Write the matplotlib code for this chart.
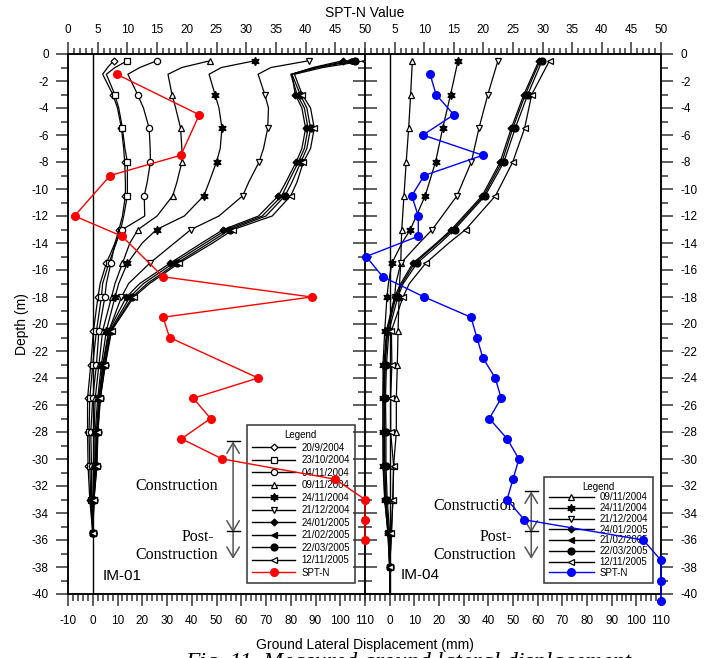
import matplotlib
matplotlib.use('Agg')
import matplotlib.pyplot as plt
from matplotlib.lines import Line2D
from matplotlib.patches import FancyArrowPatch
from matplotlib.ticker import MultipleLocator, FixedLocator

plt.rcParams['font.family'] = ['Liberation Sans', 'DejaVu Sans']
plt.rcParams['axes.unicode_minus'] = False

# ---------------- IM-01 inclinometer (ground lateral displacement, mm) ----------------
im01_depth = [-0.5, -1.0, -1.5, -3, -4, -5.5, -7, -8, -9.5, -10.5, -12, -13, -14,
              -15.5, -17, -18, -20.5, -23, -25.5, -28, -30.5, -33, -35.5]
im01_dates = ['20/9/2004', '23/10/2004', '04/11/2004', '09/11/2004', '24/11/2004',
              '21/12/2004', '24/01/2005', '21/02/2005', '22/03/2005', '12/11/2005']
im01_disp = [
    [8.4, 6.0, 4.0, 8.1, 10.0, 11.6, 12.5, 12.9, 13.2, 13.2, 12.0, 10.6, 9.0, 5.5, 3.0, 2.1, 0.3, -0.8, -2.1, -2.1, -1.9, -1.2, 0],
    [14.0, 9.0, 5.5, 8.9, 10.5, 12.0, 13.0, 14.0, 14.0, 14.0, 12.5, 11.3, 9.5, 6.5, 4.0, 3.5, 1.5, 0.0, -1.2, -1.5, -1.2, -0.8, 0],
    [25.9, 19.0, 14.2, 18.1, 20.5, 22.8, 23.2, 23.3, 22.0, 20.8, 21.0, 12.0, 9.0, 7.3, 5.5, 4.9, 2.5, 1.5, 0.0, -0.8, -0.5, -0.5, 0],
    [47.4, 36.0, 30.4, 32.0, 33.5, 35.5, 36.0, 36.0, 34.0, 32.3, 26.0, 18.3, 15.0, 12.0, 9.0, 7.6, 4.0, 2.5, 1.0, 0.5, 0.3, 0.0, 0],
    [65.5, 52.0, 47.0, 49.4, 51.0, 52.2, 51.5, 50.0, 47.0, 44.9, 37.0, 25.8, 20.0, 14.0, 10.5, 9.0, 5.5, 3.5, 2.0, 1.0, 0.8, 0.2, 0],
    [87.3, 72.0, 66.8, 69.5, 71.0, 70.7, 69.0, 67.2, 63.0, 60.6, 51.0, 39.7, 33.0, 23.0, 14.5, 11.6, 6.5, 4.0, 2.5, 1.5, 1.0, 0.4, 0],
    [101.0, 89.0, 80.5, 81.8, 84.5, 86.0, 84.5, 82.2, 78.0, 75.0, 67.0, 52.8, 44.0, 31.2, 19.0, 13.6, 6.5, 4.3, 2.5, 1.6, 1.2, 0.3, 0],
    [103.6, 90.0, 80.0, 82.6, 85.5, 87.0, 85.5, 83.1, 79.0, 76.4, 68.5, 54.1, 45.5, 32.5, 20.5, 15.0, 7.0, 4.7, 2.8, 1.8, 1.4, 0.4, 0],
    [106.0, 91.0, 80.5, 83.8, 86.5, 88.0, 86.5, 84.1, 80.5, 77.7, 70.0, 55.5, 47.0, 33.9, 22.0, 16.0, 7.3, 5.0, 3.0, 2.0, 1.6, 0.5, 0],
    [110.0, 93.0, 81.5, 84.6, 88.0, 89.5, 88.0, 85.1, 82.5, 80.0, 72.5, 56.8, 48.5, 34.8, 23.0, 16.6, 7.6, 5.1, 3.1, 2.1, 1.7, 0.5, 0],
]
im01_spt_depth = [-1.5, -4.5, -7.5, -9, -12, -13.5, -16.5, -18, -19.5, -21, -24, -25.5,
                  -27, -28.5, -30, -31.5, -33, -34.5, -36]
im01_spt = [8.2, 22.1, 19.0, 7.1, 1.1, 9.1, 16.0, 41.0, 16.0, 17.1, 32.0, 21.1,
            24.0, 19.1, 26.0, 45.0, 50, 50, 50]

# ---------------- IM-04 inclinometer ----------------
im04_depth = [-0.5, -3, -5.5, -8, -10.5, -13, -14, -15.5, -17, -18, -20.5, -23,
              -25.5, -28, -30.5, -33, -35.5, -38, -40]
im04_dates = ['09/11/2004', '24/11/2004', '21/12/2004', '24/01/2005', '21/02/2005',
              '22/03/2005', '12/11/2005']
im04_disp = [
    [9.2, 8.5, 7.7, 6.7, 5.8, 4.9, 4.7, 4.5, 4.0, 3.8, 3.4, 3.1, 2.7, 2.7, 1.6, 1.3, 0.7, 0.0, 0.0],
    [27.7, 24.7, 21.5, 18.6, 14.4, 8.4, 5.0, 0.9, -0.5, -1.1, -2.0, -2.7, -2.7, -2.7, -2.7, -2.0, -0.7, 0.0, 0.0],
    [43.9, 39.8, 36.2, 33.1, 27.3, 17.3, 12.0, 4.5, 2.5, 2.0, -1.0, -2.0, -2.0, -2.0, -2.0, -1.5, -0.5, 0.0, 0.0],
    [60.5, 54.4, 49.3, 44.8, 37.5, 25.0, 19.0, 9.4, 4.5, 2.0, -1.3, -2.3, -2.7, -2.7, -2.5, -2.0, -0.7, 0.0, 0.0],
    [61.0, 55.0, 49.9, 45.5, 38.1, 25.6, 19.5, 10.1, 5.0, 2.5, -0.8, -1.8, -2.2, -2.2, -2.0, -1.5, -0.3, 0.0, 0.0],
    [61.8, 56.0, 50.9, 46.3, 38.7, 26.3, 20.5, 11.1, 5.5, 3.3, -0.3, -1.3, -1.7, -1.5, -1.5, -1.0, 0.0, 0.0, 0.0],
    [64.8, 57.6, 54.7, 49.9, 42.9, 30.8, 24.0, 14.6, 8.0, 5.4, 0.7, 0.9, 0.4, 0.4, 1.6, 1.3, 0.7, 0.0, 0.0],
]
im04_spt_depth = [-1.5, -3, -4.5, -6, -7.5, -9, -10.5, -12, -13.5, -15, -16.5, -18, -19.5,
                  -21, -22.5, -24, -25.5, -27, -28.5, -30, -31.5, -33, -34.5, -36,
                  -37.5, -39, -40.5]
im04_spt = [11.0, 12.0, 15.0, 9.8, 19.9, 10.0, 7.9, 9.0, 9.0, 0.2, 3.0, 10.0, 17.9,
            18.9, 19.9, 22.0, 23.0, 21.0, 24.0, 26.0, 25.0, 24.0, 26.9, 47.0,
            50, 50, 50]

# marker style per reading date
styles = {
    '20/9/2004': dict(marker='D', ms=3.5, mfc='white'),
    '23/10/2004': dict(marker='s', ms=4.5, mfc='white'),
    '04/11/2004': dict(marker='o', ms=4.5, mfc='white'),
    '09/11/2004': dict(marker='^', ms=5, mfc='white'),
    '24/11/2004': dict(marker=(6, 1, 0), ms=6, mfc='black'),
    '21/12/2004': dict(marker='v', ms=5, mfc='white'),
    '24/01/2005': dict(marker='D', ms=3.5, mfc='black'),
    '21/02/2005': dict(marker='<', ms=4.5, mfc='black'),
    '22/03/2005': dict(marker='o', ms=5, mfc='black'),
    '12/11/2005': dict(marker='<', ms=4.5, mfc='white'),
}

FIG_W, FIG_H = 704, 658
TICK_C = '#333333'


def marker_idx(depths):
    return [i for i, d in enumerate(depths) if abs(((-d - 0.5) / 2.5) - round((-d - 0.5) / 2.5)) < 1e-6]


def setup_axes(ax, axt, right_panel):
    ax.set_xlim(-10, 110)
    ax.set_ylim(-40, 0)
    axt.set_xlim(0, 50)
    if right_panel:
        ax.xaxis.set_major_locator(FixedLocator(range(0, 111, 10)))
        axt.xaxis.set_major_locator(FixedLocator(range(5, 51, 5)))
    else:
        ax.xaxis.set_major_locator(MultipleLocator(10))
        axt.xaxis.set_major_locator(MultipleLocator(5))
    ax.xaxis.set_minor_locator(MultipleLocator(2))
    axt.xaxis.set_minor_locator(MultipleLocator(1))
    ax.yaxis.set_major_locator(MultipleLocator(2))
    ax.yaxis.set_minor_locator(MultipleLocator(1))
    ax.tick_params(axis='x', which='major', direction='out', length=8.8, width=1.1,
                   color=TICK_C, labelsize=8.5, pad=6)
    ax.tick_params(axis='x', which='minor', direction='out', length=5, width=1.1, color=TICK_C)
    axt.tick_params(axis='x', which='major', direction='out', length=8.8, width=1.1,
                    color=TICK_C, labelsize=8.5, pad=4)
    axt.tick_params(axis='x', which='minor', direction='out', length=4.4, width=1.1, color=TICK_C)
    # both panels tick out on both sides, so the shared middle line gets ticks both ways
    ax.tick_params(axis='y', which='both', left=True, right=True, direction='out',
                   color=TICK_C, width=1.1, labelsize=8.5, pad=5,
                   labelleft=not right_panel, labelright=right_panel)
    ax.tick_params(axis='y', which='major', length=8.8)
    ax.tick_params(axis='y', which='minor', length=4.8)
    for a in (ax, axt):
        for s in a.spines.values():
            s.set_linewidth(1.1)
            s.set_color('black')
    if right_panel:
        ax.patch.set_visible(False)
        ax.spines['left'].set_visible(False)
        axt.spines['left'].set_visible(False)


def draw_panel(ax, depths, dates, disp, spt_depth, spt, spt_color, right_panel):
    axt = ax.twiny()
    setup_axes(ax, axt, right_panel)
    ax.axvline(0, color='black', lw=1, zorder=1)
    idx = marker_idx(depths)
    handles = []
    for date, vals in zip(dates, disp):
        st = styles[date]
        ax.plot(vals, depths, color='black', lw=0.9, markevery=idx, mec='black',
                mew=0.9, zorder=3, **st)
        handles.append(Line2D([], [], color='black', lw=1, mec='black', mew=0.9,
                              label=date, **st))
    axt.plot(spt, spt_depth, color=spt_color, lw=1, marker='o', ms=5.5,
             mfc=spt_color, mec=spt_color, clip_on=False, zorder=4)
    handles.append(Line2D([], [], color=spt_color, lw=1, marker='o', ms=5.5,
                          mfc=spt_color, mec=spt_color, label='SPT-N'))
    return axt, handles


def add_legend(ax, handles, x0, rowsp, hlen):
    leg = ax.legend(handles=handles, loc='lower left', bbox_to_anchor=(x0, 0.021),
                    borderaxespad=0, fontsize=7, title='Legend', title_fontsize=7,
                    frameon=True, fancybox=False, framealpha=1, edgecolor='#333333',
                    handlelength=hlen, handletextpad=0.6, labelspacing=rowsp,
                    borderpad=0.5)
    leg.get_frame().set_linewidth(1.1)
    leg.set_zorder(2)


def add_stage_marks(ax, x, top, mid, bottom, ytext):
    half = 2.6
    ax.plot([x - half, x + half], [top, top], color='black', lw=1, zorder=3)
    ax.plot([x - half, x + half], [mid, mid], color='black', lw=1, zorder=3)
    a1 = FancyArrowPatch((x, top), (x, mid - 0.15), arrowstyle='<->,head_length=0.75,head_width=0.45',
                         mutation_scale=10, color='#555555', lw=1.1, shrinkA=0, shrinkB=0)
    a2 = FancyArrowPatch((x, mid), (x, bottom), arrowstyle='->,head_length=0.75,head_width=0.45',
                         mutation_scale=10, color='#555555', lw=1.1, shrinkA=0, shrinkB=0)
    ax.add_patch(a1)
    ax.add_patch(a2)
    serif = ['Liberation Serif', 'DejaVu Serif']
    tx = x - 6
    ax.text(tx, ytext, 'Construction', ha='right', va='center', fontsize=11.5, family=serif)
    ax.text(tx - 1.5, -35.8, 'Post-', ha='right', va='center', fontsize=11.5, family=serif)
    ax.text(tx, -37.1, 'Construction', ha='right', va='center', fontsize=11.5, family=serif)


def plot():
    fig = plt.figure(figsize=(FIG_W / 100, FIG_H / 100), dpi=100)
    bottom = (FIG_H - 594) / FIG_H
    height = 540 / FIG_H
    ax1 = fig.add_axes([68 / FIG_W, bottom, 297 / FIG_W, height])
    ax2 = fig.add_axes([365 / FIG_W, bottom, 296 / FIG_W, height])

    axt1, h1 = draw_panel(ax1, im01_depth, im01_dates, im01_disp, im01_spt_depth,
                          im01_spt, '#ff0000', False)
    axt2, h2 = draw_panel(ax2, im04_depth, im04_dates, im04_disp, im04_spt_depth,
                          im04_spt, '#0000ff', True)

    add_legend(ax1, h1, 0.602, 0.26, 4.5)
    add_legend(ax2, h2, 0.605, 0.08, 4.6)

    add_stage_marks(ax1, 56.7, -28.7, -35.3, -37.4, -32.0)
    add_stage_marks(ax2, 57.4, -32.4, -35.3, -37.4, -33.5)

    ax1.text(3.9, -38.7, 'IM-01', ha='left', va='center', fontsize=11)
    ax2.text(4.3, -38.6, 'IM-04', ha='left', va='center', fontsize=11)

    fig.text(365 / FIG_W, 1 - 13 / FIG_H, 'SPT-N Value', ha='center', va='center', fontsize=10)
    fig.text(22 / FIG_W, 1 - 324 / FIG_H, 'Depth (m)', ha='center', va='center',
             rotation=90, fontsize=10)
    fig.text(365 / FIG_W, 1 - 645 / FIG_H, 'Ground Lateral Displacement (mm)', ha='center',
             va='center', fontsize=10)
    # figure caption, cut by the lower edge as in the source scan
    fig.text(185 / FIG_W, 1 - 652 / FIG_H, 'Fig. 11. Measured ground lateral displacement',
             ha='left', va='top', fontsize=17, style='italic',
             family=['Liberation Serif', 'DejaVu Serif'])

    fig.savefig('out.png', dpi=100)


plot()
